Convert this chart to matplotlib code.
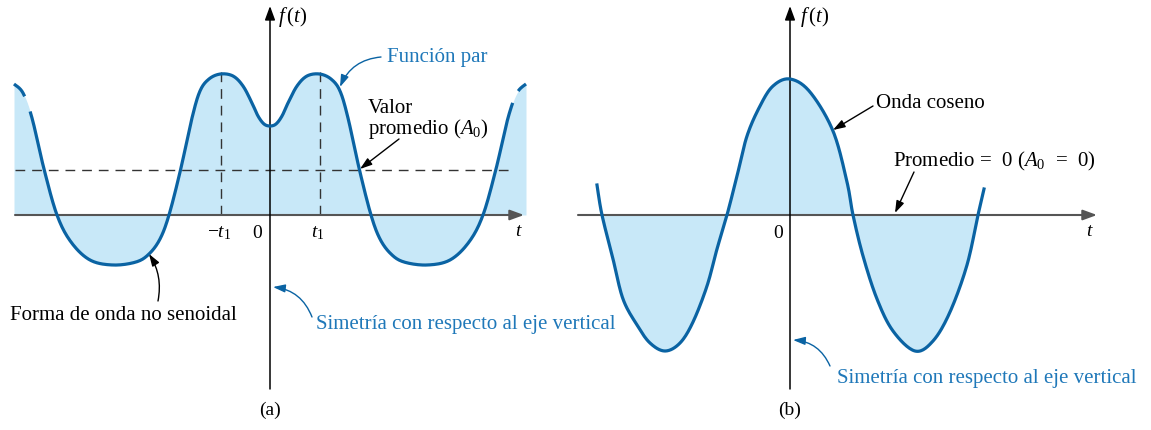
"""
Even-symmetry waveforms: (a) non-sinusoidal even function, (b) cosine wave
"""
import matplotlib as mpl
import matplotlib.pyplot as plt
import numpy as np

mpl.rcParams['font.family'] = 'Liberation Serif'
mpl.rcParams['mathtext.fontset'] = 'custom'
mpl.rcParams['mathtext.rm'] = 'Liberation Serif'
mpl.rcParams['mathtext.it'] = 'Liberation Serif:italic'

# (a) half of the even waveform, t >= 0 (mirrored for t < 0)
t_half_a = [0, 6, 12, 18, 27, 37, 49.5, 61, 70, 78, 89.5, 101, 110, 121,
            134, 157, 180, 199, 213, 226, 238, 247, 256]
f_half_a = [89, 91, 99, 112, 129, 139, 141, 136, 124, 97, 45, 0, -24, -39,
            -47, -50, -45, -27, 0, 46, 97, 122, 131]
t1 = 49.5          # position of the two peaks
avg_a = 45         # average value A0

# (b) cosine wave
t_b = [-193, -188, -177, -167, -153, -140, -125, -110, -97, -83, -73, -63,
       -53, -43, -30, -17, 0, 20, 43, 57, 63, 73, 87, 103, 125, 143, 160,
       177, 188, 194]
f_b = [30, 0, -44, -84, -110, -128, -136, -128, -107, -71, -34, 0, 39, 79,
       109, 129, 136, 123, 84, 33, 0, -41, -84, -116, -136, -126, -97, -50,
       0, 26]

CURVE = '#0a63a3'
FILL = '#c8e8f8'
BLUE_TXT = '#1f78b9'
AXIS = '#555555'
FS = 15


def smooth(ts, fs, n=16):
    """Catmull-Rom curve through the given points (as cubic Bezier pieces)."""
    p = np.column_stack([ts, fs]).astype(float)
    out = [p[:1]]
    u = np.linspace(0, 1, n + 1)[1:, None]
    for i in range(len(p) - 1):
        p0 = p[max(i - 1, 0)]
        p1 = p[i]
        p2 = p[i + 1]
        p3 = p[min(i + 2, len(p) - 1)]
        c1 = p1 + (p2 - p0) / 6
        c2 = p2 - (p3 - p1) / 6
        seg = ((1 - u)**3 * p1 + 3 * (1 - u)**2 * u * c1
               + 3 * (1 - u) * u**2 * c2 + u**3 * p2)
        out.append(seg)
    q = np.vstack(out)
    return q[:, 0], q[:, 1]


def axis_arrow(ax, start, end, color, lw):
    ax.annotate('', xy=end, xytext=start,
                arrowprops=dict(arrowstyle='-|>,head_length=0.6,head_width=0.22',
                                mutation_scale=14, color=color, lw=lw,
                                shrinkA=0, shrinkB=0), zorder=4)


def pointer(ax, text_xy, tip_xy, color='black', rad=0.0):
    ax.annotate('', xy=tip_xy, xytext=text_xy,
                arrowprops=dict(arrowstyle='-|>,head_length=0.6,head_width=0.2',
                                mutation_scale=12, color=color, lw=1.0,
                                shrinkA=0, shrinkB=0,
                                connectionstyle=f'arc3,rad={rad}'), zorder=6)


fig = plt.figure(figsize=(11.51, 4.31), dpi=100)
ax_a = fig.add_axes([0, 0, 575 / 1151, 1])
ax_b = fig.add_axes([575 / 1151, 0, 576 / 1151, 1])
ax_a.set_xlim(-270, 305)
ax_b.set_xlim(-215, 361)
for ax in (ax_a, ax_b):
    ax.set_ylim(-215, 216)
    ax.axis('off')

# ---------- (a) ----------
t_a = np.concatenate([-np.array(t_half_a[::-1]), np.array(t_half_a[1:])])
f_a = np.concatenate([np.array(f_half_a[::-1]), np.array(f_half_a[1:])])
xs, ys = smooth(t_a, f_a)
ax_a.fill_between(xs, ys, 0, color=FILL, lw=0, zorder=1)
# small breaks in the line near both ends
ys_line = ys.copy()
ys_line[((xs > -245) & (xs < -240)) | ((xs > 243) & (xs < 248))] = np.nan
ax_a.plot(xs, ys_line, color=CURVE, lw=2.3, zorder=5, solid_capstyle='butt')

ax_a.plot([-255, 245], [avg_a, avg_a], color='#333333', lw=1.0,
          dashes=(7, 5), zorder=2)
for tt in (-t1, t1):
    ax_a.plot([tt, tt], [0, 150], color='#333333', lw=1.0,
              dashes=(7, 5), zorder=2)

axis_arrow(ax_a, (-255, 0), (254, 0), AXIS, 1.5)
axis_arrow(ax_a, (0, -174), (0, 209), 'black', 1.1)

ax_a.text(8, 199, '$f\\,(t)$', fontsize=FS, ha='left', va='center')
ax_a.text(-50.5, -17, '$-t_1$', fontsize=14, ha='center', va='center')
ax_a.text(-13, -17, '0', fontsize=14, ha='center', va='center')
ax_a.text(48, -17, '$t_1$', fontsize=14, ha='center', va='center')
ax_a.text(249, -16, '$t$', fontsize=14, ha='center', va='center')

ax_a.text(117, 159, 'Función par', fontsize=FS, color=BLUE_TXT,
          ha='left', va='center')
pointer(ax_a, (111, 158), (70, 128), color=CURVE, rad=0.3)

ax_a.text(98, 103, 'Valor', fontsize=FS, ha='left', va='baseline')
ax_a.text(98, 82, 'promedio ($A_0$)', fontsize=FS, ha='left', va='baseline')
pointer(ax_a, (129, 76), (90, 46))

ax_a.text(-260, -100, 'Forma de onda no senoidal', fontsize=FS,
          ha='left', va='center')
pointer(ax_a, (-112, -86), (-121, -39), rad=0.2)

ax_a.text(46, -109, 'Simetría con respecto al eje vertical', fontsize=FS,
          color=BLUE_TXT, ha='left', va='center')
pointer(ax_a, (42, -102), (3, -72), color=CURVE, rad=0.3)

ax_a.text(0, -194, '(a)', fontsize=14, ha='center', va='center')

# ---------- (b) ----------
xs, ys = smooth(t_b, f_b)
inside = (xs >= t_b[1]) & (xs <= t_b[-2])
ax_b.fill_between(xs, ys, 0, where=inside, color=FILL, lw=0, zorder=1)
ax_b.plot(xs, ys, color=CURVE, lw=2.3, zorder=5)

axis_arrow(ax_b, (-212, 0), (307, 0), AXIS, 1.5)
axis_arrow(ax_b, (0, -174), (0, 209), 'black', 1.1)

ax_b.text(10, 199, '$f\\,(t)$', fontsize=FS, ha='left', va='center')
ax_b.text(-12, -17, '0', fontsize=14, ha='center', va='center')
ax_b.text(300, -16, '$t$', fontsize=14, ha='center', va='center')

ax_b.text(86, 113, 'Onda coseno', fontsize=FS, ha='left', va='center')
pointer(ax_b, (83, 109), (43, 85))

ax_b.text(103, 55, 'Promedio =  0 ($A_0$  =  0)', fontsize=FS,
          ha='left', va='center')
pointer(ax_b, (124, 43), (105, 2))

ax_b.text(47, -162, 'Simetría con respecto al eje vertical', fontsize=FS,
          color=BLUE_TXT, ha='left', va='center')
pointer(ax_b, (40, -151), (3, -125), color=CURVE, rad=0.3)

ax_b.text(0, -194, '(b)', fontsize=14, ha='center', va='center')

fig.savefig('out.png', dpi=100)
plt.close('all')
